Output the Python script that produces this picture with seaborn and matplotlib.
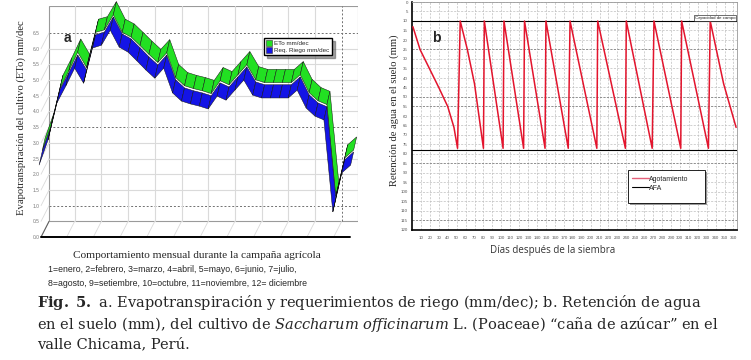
import numpy as np
import seaborn as sns
import matplotlib.pyplot as plt
from matplotlib.patches import Polygon, Rectangle, Patch
from matplotlib.lines import Line2D

# ---- datos panel a (decadas 1..36, mm/dec) ----
decades = list(range(1, 37))
req_riego = [2.29, 3.09, 4.27, 4.81, 5.38, 4.90, 6.02, 6.11, 6.59, 6.05, 5.89, 5.61,
             5.32, 5.06, 5.38, 4.59, 4.33, 4.24, 4.17, 4.08, 4.49, 4.36, 4.68, 5.00,
             4.52, 4.43, 4.43, 4.43, 4.43, 4.68, 4.11, 3.85, 3.73, 0.80, 2.04, 2.29]
eto = [2.32, 3.12, 4.31, 4.87, 5.47, 4.98, 6.10, 6.18, 6.66, 6.10, 5.95, 5.68,
       5.40, 5.14, 5.45, 4.66, 4.40, 4.31, 4.24, 4.15, 4.56, 4.43, 4.75, 5.07,
       4.59, 4.50, 4.50, 4.50, 4.50, 4.75, 4.18, 3.92, 3.80, 0.88, 2.10, 2.35]
months = list(range(1, 13))
a_yticks = np.arange(0, 6.51, 0.5)

# ---- datos panel b (dias, mm) ----
days = [1, 9, 30, 40, 47, 51, 54, 62, 70, 80, 81, 102, 103, 125, 126, 149, 150,
        175, 177, 207, 208, 239, 240, 269, 271, 301, 302, 332, 334, 349, 363]
agotamiento = [13, 25, 45, 55, 66, 77, 10, 25, 43, 77, 10, 77, 10, 77, 10, 77, 10,
               77, 10, 77, 10, 77, 10, 77, 10, 77, 10, 77, 10, 43, 66]
capacidad_campo = 10
afa = 78
b_xticks = list(range(10, 361, 10))
b_yticks = list(range(0, 121, 5))

sns.set_style("white")
plt.rcParams['font.family'] = ['Liberation Sans', 'DejaVu Sans']
plt.rcParams['mathtext.fontset'] = 'custom'
plt.rcParams['mathtext.rm'] = 'DejaVu Serif'
plt.rcParams['mathtext.it'] = 'DejaVu Serif:italic'
plt.rcParams['mathtext.bf'] = 'DejaVu Serif:bold'

W, H = 751, 360
fig = plt.figure(figsize=(W / 100, H / 100), dpi=100)


def fx(px):
    return px / W


def fy(py):
    return 1 - py / H


# ================= panel a (grafico pseudo 3D) =================
ax_a = fig.add_axes([fx(48), fy(237), 310 / W, 231 / H])
x0, x1 = 2.12, 36.83
ax_a.set_xlim(x0, x1)
ax_a.set_ylim(0, 7.36)
for s in ax_a.spines.values():
    s.set_visible(False)
wdx, wdy = 0.9, 0.5          # profundidad pared-frente
grid_c = '#dadada'

# pared del fondo
ax_a.add_patch(Rectangle((x0, 0.5), x1 - x0, 7.36 - 0.5, fill=False, ec='#9a9a9a', lw=0.8))
for v in np.arange(1.0, 7.0, 0.5):
    dashed = v in (1.0, 3.5, 6.5)
    ax_a.plot([x0, x1], [v, v], color='#707070' if dashed else grid_c,
              lw=0.7 if dashed else 0.8, ls=(0, (2, 2)) if dashed else '-', zorder=1)
    ax_a.plot([x0, x0 - wdx], [v, v - wdy], color=grid_c, lw=0.6, clip_on=False, zorder=1)
vgrid = [3 * m - 1 for m in months[1:]]
for xg in vgrid:
    dashed = xg == vgrid[-1]
    ax_a.plot([xg, xg], [0.5, 7.36], color='#707070' if dashed else grid_c,
              lw=0.7 if dashed else 0.8, ls=(0, (2, 2)) if dashed else '-', zorder=1)
for xg in [x0] + vgrid:
    ax_a.plot([xg, xg - wdx], [0.5, 0], color=grid_c, lw=0.6, clip_on=False, zorder=1)
ax_a.plot([x0, x0 - wdx], [0.5, 0], color='#606060', lw=0.8, clip_on=False)
ax_a.plot([x0 - wdx, x1 - wdx], [0, 0], color='black', lw=1.4, clip_on=False)

# cintas 3D
rdx, rdy = 0.34, 0.42


def ribbon(ax, x, y, ox, oy, color):
    x = np.asarray(x, float) + ox
    y = np.asarray(y, float) + oy
    for i in range(len(x) - 1):
        quad = [(x[i], y[i]), (x[i + 1], y[i + 1]),
                (x[i + 1] + rdx, y[i + 1] + rdy), (x[i] + rdx, y[i] + rdy)]
        ax.add_patch(Polygon(quad, closed=True, fc=color, ec='#111111', lw=0.35,
                             clip_on=False, zorder=3))


green, blue = '#22e022', '#1414e6'
ribbon(ax_a, decades, eto, rdx, rdy, green)
ribbon(ax_a, decades, req_riego, 0, 0, blue)

ax_a.set_xticks([3 * m - 1 for m in months])
ax_a.set_xticklabels([])
ax_a.tick_params(axis='x', length=5, width=0.6, color='#888888', direction='out')
ax_a.spines['bottom'].set_position(('outward', 2))
ax_a.set_yticks(a_yticks)
ax_a.set_yticklabels([f"{v:.1f}" for v in a_yticks], fontsize=3.5, color='#777777')
ax_a.tick_params(axis='y', length=0, pad=6)

ax_a.legend(handles=[Patch(fc=green, ec='#333333', lw=0.4), Patch(fc=blue, ec='#333333', lw=0.4)],
            labels=['ETo mm/dec', 'Req. Riego mm/dec'], loc='upper left',
            bbox_to_anchor=(fx(261), fy(35)), bbox_transform=fig.transFigure,
            fontsize=4.5, handlelength=0.9, handleheight=0.9, handletextpad=0.4,
            labelspacing=0.2, borderpad=0.35, fancybox=False, shadow=True,
            framealpha=1, edgecolor='black')
fig.text(fx(67), fy(38), 'a', fontsize=10, fontweight='bold', ha='center', va='center')

fig.text(fx(21), fy(118), 'Evapotranspiración del cultivo (ETo) mm/dec', rotation=90,
         ha='center', va='center', fontsize=7.7, family='Liberation Serif')
fig.text(fx(197), fy(255), 'Comportamiento mensual durante la campaña agrícola',
         ha='center', va='center', fontsize=8.1, family='Liberation Serif')
fig.text(fx(48), fy(270), '1=enero, 2=febrero, 3=marzo, 4=abril, 5=mayo, 6=junio, 7=julio,',
         ha='left', va='center', fontsize=6.3)
fig.text(fx(48), fy(283), '8=agosto, 9=setiembre, 10=octubre, 11=noviembre, 12= diciembre',
         ha='left', va='center', fontsize=6.3)

# ================= panel b =================
ax_b = fig.add_axes([fx(412), fy(230), 325 / W, 228 / H])
ax_b.set_xlim(0, 364)
ax_b.set_ylim(120, 0)
ax_b.set_xticks(b_xticks)
ax_b.set_yticks(b_yticks)
ax_b.tick_params(labelsize=3.2, labelcolor='#555555', length=1.5, width=0.5, pad=1.5)
ax_b.tick_params(axis='x', pad=3)
ax_b.grid(True, color='#bdbdbd', lw=0.5, ls=(0, (3, 2)))
for v in (25, 50, 55, 85, 115):
    ax_b.axhline(v, color='#777777', lw=0.5, ls=(0, (3, 2)), zorder=1)
for side in ('left', 'bottom'):
    ax_b.spines[side].set_color('black')
    ax_b.spines[side].set_linewidth(1.2)
for side in ('top', 'right'):
    ax_b.spines[side].set_color('#999999')
    ax_b.spines[side].set_linewidth(0.6)

ax_b.axhline(capacidad_campo, color='black', lw=0.8, zorder=2)
ax_b.axhline(afa, color='black', lw=0.8, zorder=2)
red = '#e3142d'
sns.lineplot(x=days, y=agotamiento, ax=ax_b, color=red, lw=1.1, sort=False,
             estimator=None, zorder=3)
ax_b.set_xlabel('')
ax_b.set_ylabel('')
ax_b.text(362, capacidad_campo - 0.6, 'Capacidad de campo', ha='right', va='bottom', fontsize=3.2,
          bbox=dict(fc='white', ec='black', lw=0.4, pad=0.6), zorder=4)
fig.text(fx(436), fy(38), 'b', fontsize=10, fontweight='bold', ha='center', va='center')

# caja de leyenda con sombra
fig.add_artist(Rectangle((fx(630), fy(205)), 77 / W, 33 / H, transform=fig.transFigure,
                         fc='#9a9a9a', ec='none', zorder=4))
fig.add_artist(Rectangle((fx(628), fy(203)), 77 / W, 33 / H, transform=fig.transFigure,
                         fc='white', ec='black', lw=0.6, zorder=4))
leg = fig.legend(handles=[Line2D([], [], color='#e5607a', lw=1.0), Line2D([], [], color='black', lw=0.8)],
                 labels=['Agotamiento', 'AFA'], loc='upper left',
                 bbox_to_anchor=(fx(627), fy(171)), bbox_transform=fig.transFigure,
                 frameon=False, fontsize=5, handlelength=2.4, handletextpad=0.1,
                 labelspacing=0.25, borderpad=0.2)
leg.set_zorder(5)

fig.text(fx(394), fy(110), 'Retención de agua en el suelo (mm)', rotation=90,
         ha='center', va='center', fontsize=7.6, family='Liberation Serif')
fig.text(fx(553), fy(250), 'Días después de la siembra', ha='center', va='center',
         fontsize=7, family='Open Sans', color='#333333')

# ================= leyenda de la figura =================
cap_kw = dict(ha='left', va='center', fontsize=10.5, family='DejaVu Serif')
fig.text(fx(37), fy(303), r'$\bf{Fig.\ 5.}$ a. Evapotranspiración y requerimientos de riego (mm/dec); b. Retención de agua', **cap_kw)
fig.text(fx(37), fy(324), r'en el suelo (mm), del cultivo de $\it{Saccharum\ officinarum}$ L. (Poaceae) “caña de azúcar” en el', **cap_kw)
fig.text(fx(37), fy(344), 'valle Chicama, Perú.', **cap_kw)

fig.savefig('out.png', dpi=100)
